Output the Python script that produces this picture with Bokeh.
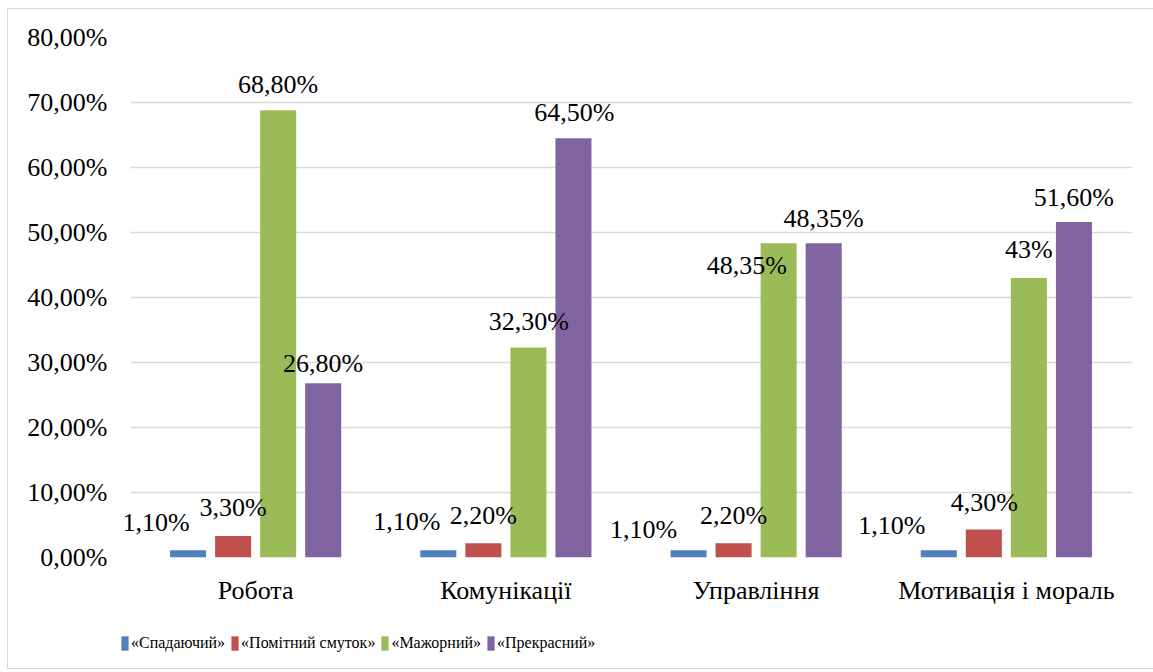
from bokeh.plotting import figure
from bokeh.layouts import column
from bokeh.models import (FactorRange, FixedTicker, Legend, LegendItem, ColumnDataSource,
                          Range1d, LabelSet, BoxAnnotation)
from bokeh.transform import dodge
from bokeh.core.properties import value
from bokeh.embed import file_html
from bokeh.resources import INLINE

categories = ["Робота", "Комунікації", "Управління", "Мотивація і мораль"]
series_names = ["«Спадаючий»", "«Помітний смуток»", "«Мажорний»", "«Прекрасний»"]
spadayuchyi = [1.10, 1.10, 1.10, 1.10]
pomitnyi_smutok = [3.30, 2.20, 2.20, 4.30]
mazhornyi = [68.80, 32.30, 48.35, 43.0]
prekrasnyi = [26.80, 64.50, 48.35, 51.60]
label_spadayuchyi = ["1,10%", "1,10%", "1,10%", "1,10%"]
label_pomitnyi = ["3,30%", "2,20%", "2,20%", "4,30%"]
label_mazhornyi = ["68,80%", "32,30%", "48,35%", "43%"]
label_prekrasnyi = ["26,80%", "64,50%", "48,35%", "51,60%"]
y_ticks = [0, 10, 20, 30, 40, 50, 60, 70, 80]
y_tick_labels = ["0,00%", "10,00%", "20,00%", "30,00%", "40,00%", "50,00%", "60,00%", "70,00%", "80,00%"]

# styling / label nudges (screen pixels, negative = up)
colors = ["#4F81BD", "#C0504D", "#9BBB59", "#8064A2"]
dodges = [-0.27, -0.09, 0.09, 0.27]
nudge_x = [[-32, -31.5, -45, -47], [0, 0, 0, 0.5], [0, 0.5, -31.7, 0], [0, 1, 0, 0]]
nudge_y = [[-28, -29, -21, -25], [-28.5, -28, -27.7, -26.7], [-26, -26.5, 21.8, -28.5], [-20, -25.5, -25, -25]]

series_values = [spadayuchyi, pomitnyi_smutok, mazhornyi, prekrasnyi]
series_labels = [label_spadayuchyi, label_pomitnyi, label_mazhornyi, label_prekrasnyi]

FONT = "Liberation Serif"
PAD = 0.04  # extra frame room so edge labels are not clipped

p = figure(
    x_range=FactorRange(*categories, range_padding=PAD, range_padding_units="absolute", factor_padding=0),
    y_range=Range1d(0, 80),
    width=1145, height=600,
    output_backend="svg", toolbar_location=None, tools="",
    min_border_left=112, min_border_right=12, min_border_top=28, min_border_bottom=52,
)
p.outline_line_color = None
p.background_fill_color = "white"
p.border_fill_color = "white"

p.xgrid.grid_line_color = None
p.ygrid.grid_line_color = "#D9D9D9"
p.ygrid.grid_line_width = 1.5
p.yaxis.ticker = FixedTicker(ticks=y_ticks)
p.yaxis.major_label_overrides = {t: l for t, l in zip(y_ticks, y_tick_labels)}

for ax in (p.xaxis[0], p.yaxis[0]):
    ax.axis_line_color = None
    ax.major_tick_line_color = None
    ax.minor_tick_line_color = None
    ax.major_tick_out = 0
    ax.major_tick_in = 0
    ax.major_label_text_font = FONT
    ax.major_label_text_font_size = "26px"
    ax.major_label_text_color = "black"
p.yaxis.major_label_standoff = 13
p.xaxis.major_label_standoff = 18

# white masks so gridlines span only the category area
p.add_layout(BoxAnnotation(right=0, fill_color="white", fill_alpha=1, line_alpha=0))
p.add_layout(BoxAnnotation(left=len(categories), fill_color="white", fill_alpha=1, line_alpha=0))

for i in range(4):
    src = ColumnDataSource(dict(
        cat=categories, val=series_values[i], lab=series_labels[i],
        dx=nudge_x[i], up=[-d for d in nudge_y[i]],
    ))
    p.vbar(x=dodge("cat", dodges[i], range=p.x_range), top="val", width=0.144,
           source=src, fill_color=colors[i], line_color=None)
    labels = LabelSet(x=dodge("cat", dodges[i], range=p.x_range), y="val", text="lab", source=src,
                      x_offset="dx", y_offset="up", text_align="center", text_baseline="middle",
                      text_font=value(FONT), text_font_size="26px", text_color="black")
    p.add_layout(labels)

# legend strip (its bars lie below the visible range; only the legend shows)
q = figure(
    x_range=FactorRange(*categories, range_padding=PAD, range_padding_units="absolute", factor_padding=0),
    y_range=Range1d(100, 101),
    width=1145, height=59, output_backend="svg", toolbar_location=None, tools="",
    x_axis_type=None, y_axis_type=None,
    min_border_left=112, min_border_right=12, min_border_top=0, min_border_bottom=0,
)
q.outline_line_color = None
q.grid.visible = False
legend_renderers = []
for i in range(4):
    src = ColumnDataSource(dict(cat=categories, val=series_values[i]))
    r = q.vbar(x=dodge("cat", dodges[i], range=q.x_range), top="val", width=0.144,
               source=src, fill_color=colors[i], line_color=None)
    legend_renderers.append(r)
legend = Legend(
    items=[LegendItem(label=series_names[i], renderers=[legend_renderers[i]]) for i in range(4)],
    orientation="horizontal", location=(0, 16),
    glyph_width=9, glyph_height=18, label_standoff=2, spacing=5,
    padding=0, margin=0, label_height=15,
    label_text_font=FONT, label_text_font_size="16px", label_text_color="black",
    border_line_alpha=0, background_fill_alpha=0,
)
q.add_layout(legend, "center")

layout = column(p, q, spacing=0)
layout.margin = (8, 0, 0, 7)
layout.styles = {"border": "1px solid #D9D9D9", "background-color": "white"}

open("out.html", "w").write(file_html(layout, INLINE))
